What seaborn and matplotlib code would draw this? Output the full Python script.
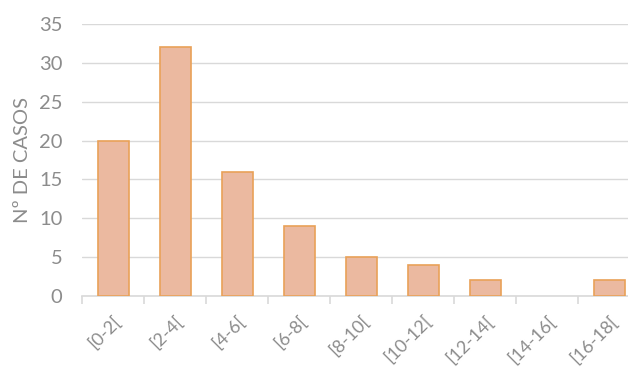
import pandas as pd
import matplotlib.pyplot as plt
import seaborn as sns
from matplotlib.ticker import FixedLocator

intervals = ['[0-2[', '[2-4[', '[4-6[', '[6-8[', '[8-10[', '[10-12[', '[12-14[', '[14-16[', '[16-18[']
casos = [20, 32, 16, 9, 5, 4, 2, 0, 2]

df = pd.DataFrame({'intervalo': intervals, 'casos': casos})

sns.set_style('white')
plt.rcParams['font.family'] = ['Lato', 'DejaVu Sans']

grey = '#8c8c8c'
fig = plt.figure(figsize=(6.28, 3.71), dpi=100)
ax = fig.add_axes([0.1306, 0.2022, 0.889, 0.7331])

sns.barplot(x='intervalo', y='casos', data=df, color='#ebb9a0', width=0.5,
            edgecolor='#e9a158', linewidth=1.2, saturation=1, ax=ax, zorder=3)
# empty class: no visible bar
for p in ax.patches:
    if p.get_height() == 0:
        p.set_visible(False)

ax.set_ylim(0, 35)
ax.set_xlim(-0.5, len(intervals) - 0.5)
ax.set_yticks(range(0, 36, 5))
ax.yaxis.grid(True, color='#d9d9d9', linewidth=1, zorder=0)
for s in ['top', 'right', 'left']:
    ax.spines[s].set_visible(False)
ax.spines['bottom'].set_color('#d9d9d9')
ax.spines['bottom'].set_linewidth(1.2)

ax.xaxis.set_minor_locator(FixedLocator([i - 0.5 for i in range(len(intervals) + 1)]))
ax.tick_params(axis='x', which='major', length=0, pad=12)
ax.tick_params(axis='x', which='minor', length=6, color='#d9d9d9', width=1.2, bottom=True)
ax.tick_params(axis='y', length=0, labelsize=14.5, labelcolor=grey, pad=14)
plt.setp(ax.get_xticklabels(), rotation=45, ha='right', rotation_mode='anchor',
         fontsize=13, color=grey)

ax.set_xlabel('')
ax.set_ylabel('Nº DE CASOS', fontsize=14.5, color=grey, labelpad=6)

fig.savefig('out.png', dpi=100)
